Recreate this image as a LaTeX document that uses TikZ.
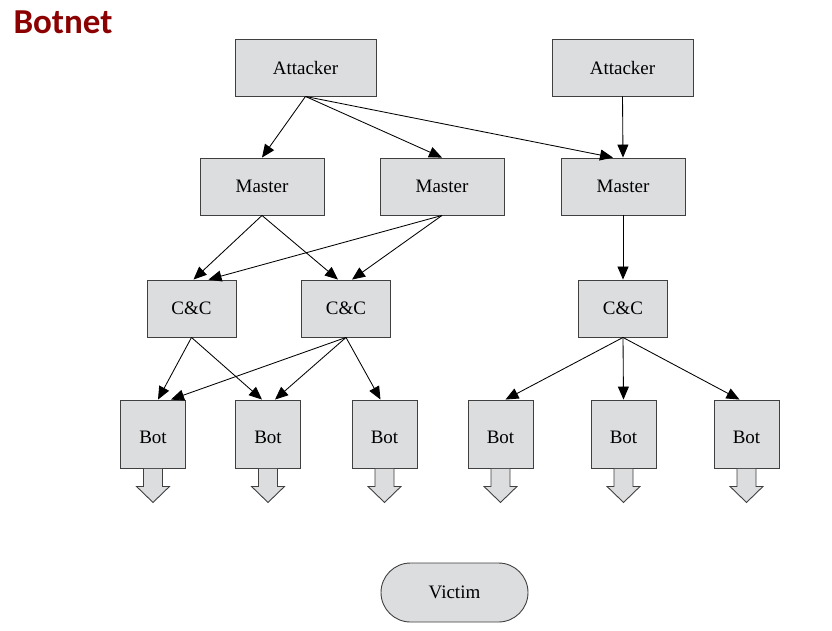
\documentclass[tikz,border=0pt]{standalone}
\usepackage{fontspec}
\setmainfont{Liberation Serif}
\newfontfamily\titlefont{Carlito}
\usetikzlibrary{arrows.meta,shapes.misc}

\begin{document}
\begin{tikzpicture}[x=1pt,y=-1pt,
  box/.style={draw=boxline,fill=boxfill,line width=0.9pt,inner sep=0pt,
    minimum height=57pt,font=\fontsize{19}{21}\selectfont},
  botarrow/.style={draw=boxline,fill=boxfill,line width=0.9pt},
  link/.style={line width=0.85pt,-{Triangle[length=13pt,width=11pt]}}]
\definecolor{boxfill}{HTML}{DCDDDF}
\definecolor{boxline}{HTML}{404040}
\definecolor{titlered}{HTML}{8B0000}
\useasboundingbox (0,0) rectangle (832,630);
\node[anchor=base west,text=titlered,font=\titlefont\bfseries\fontsize{35}{40}\selectfont] (title) at (10,33) {Botnet};
  \foreach \nm/\x in {a1/305.5,a2/622.5}
  {  \node[box,minimum width=141pt] (\nm) at (\x,67.5) {Attacker};}
  \foreach \nm/\x in {m1/262,m2/442,m3/623}
  {  \node[box,minimum width=124pt] (\nm) at (\x,186.5) {Master};}
  \foreach \nm/\x in {c1/191.5,c2/346,c3/623}
  {  \node[box,minimum width=89pt] (\nm) at (\x,308.5) {C\&C};}
  \foreach \i/\x in {1/153,2/268,3/384.5,4/500.5,5/623.5,6/746.5}
  {  \node[box,minimum width=65pt,minimum height=68pt,text height=19.5pt,text depth=0pt] (b\i) at (\x,434) {Bot};
     \draw[botarrow,shift={(b\i.south)}] (-9.5,0.5) -- (-9.5,18) -- (-16.5,18) -- (0,34)
       -- (16.5,18) -- (9.5,18) -- (9.5,0.5);}
\node[box,rounded rectangle,minimum width=147pt,minimum height=59pt] (victim) at (454.5,592.5) {Victim};
\draw[link] (a1.south) -- (m1.north);
\draw[link] (a1.south) -- (m2.north);
\draw[link] (a1.south) -- ([xshift=-10pt]m3.north);
\draw[link] (a2.south) -- (m3.north);
\draw[link] (m1.south) -- ([xshift=2pt]c1.north);
\draw[link] (m1.south) -- ([xshift=-8pt]c2.north);
\draw[link] (m2.south) -- ([xshift=17pt]c1.north);
\draw[link] (m2.south) -- ([xshift=6pt]c2.north);
\draw[link] (m3.south) -- (c3.north);
\draw[link] (c1.south) -- ([xshift=5pt]b1.north);
\draw[link] (c1.south) -- ([xshift=-6pt]b2.north);
\draw[link] (c2.south) -- ([xshift=18pt]b1.north);
\draw[link] (c2.south) -- ([xshift=7pt]b2.north);
\draw[link] (c2.south) -- ([xshift=-4pt]b3.north);
\draw[link] (c3.south) -- ([xshift=5pt]b4.north);
\draw[link] (c3.south) -- (b5.north);
\draw[link] (c3.south) -- ([xshift=-7pt]b6.north);
\end{tikzpicture}
\end{document}
